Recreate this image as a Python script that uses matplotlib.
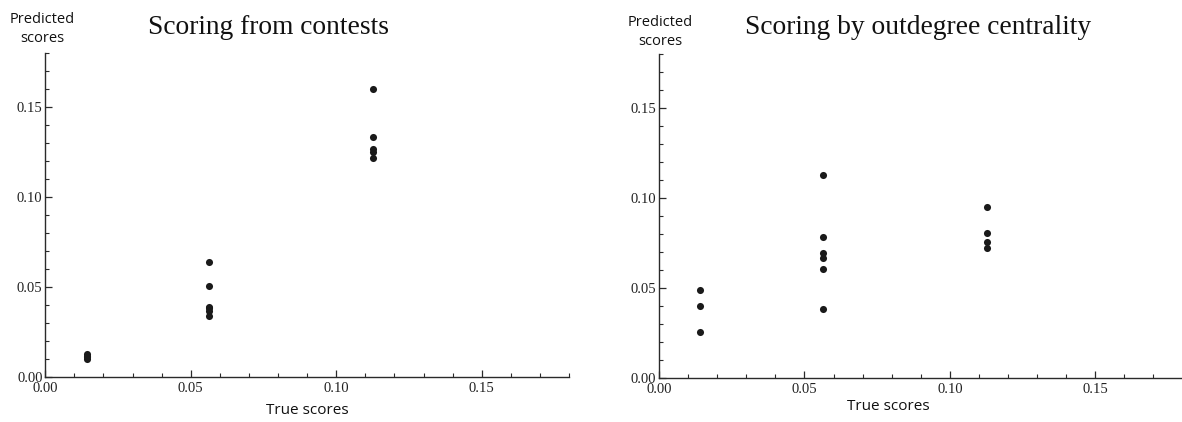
import matplotlib
matplotlib.use('Agg')
import matplotlib.pyplot as plt
import matplotlib.ticker as ticker

# values
contest_x = [0.0143] * 4 + [0.0564] * 6 + [0.1128] * 5
contest_y = [0.0101, 0.0110, 0.0117, 0.0124,
             0.0637, 0.0505, 0.0390, 0.0380, 0.0365, 0.0340,
             0.1600, 0.1333, 0.1265, 0.1250, 0.1215]

outdeg_x = [0.0141] * 3 + [0.0563] * 6 + [0.1127] * 4
outdeg_y = [0.0487, 0.0398, 0.0252,
            0.1126, 0.0780, 0.0691, 0.0663, 0.0602, 0.0383,
            0.0947, 0.0803, 0.0754, 0.0720]

titles = ['Scoring from contests', 'Scoring by outdegree centrality']
ticks = [0.00, 0.05, 0.10, 0.15]

W, H = 1182, 422
fig = plt.figure(figsize=(W / 100, H / 100), dpi=100)

def px(x, y):
    return x / W, 1 - y / H

# axes boxes in pixels: left, right, top, bottom
boxes = [(45.3, 569, 53.4, 376.7), (659, 1182.5, 53.7, 377.7)]
data = [(contest_x, contest_y), (outdeg_x, outdeg_y)]
title_pos = [(268, 27), (918, 28)]
ylab_pos = [(42, 29), (660, 32)]
xlab_pos = [(307, 410), (888, 407)]

axis_col = '#2a2a2a'
for i in range(2):
    l, r, t, b = boxes[i]
    ax = fig.add_axes([l / W, 1 - b / H, (r - l) / W, (b - t) / H])
    xs, ys = data[i]
    ax.scatter(xs, ys, s=26, color='#1a1a1a', linewidths=0, zorder=3, clip_on=False)
    ax.set_xlim(0, 0.18)
    ax.set_ylim(0, 0.18)
    for s in ['top', 'right']:
        ax.spines[s].set_visible(False)
    for s in ['left', 'bottom']:
        ax.spines[s].set_color(axis_col)
        ax.spines[s].set_linewidth(1.0)
    ax.xaxis.set_major_locator(ticker.FixedLocator(ticks))
    ax.yaxis.set_major_locator(ticker.FixedLocator(ticks))
    ax.xaxis.set_minor_locator(ticker.MultipleLocator(0.01))
    ax.yaxis.set_minor_locator(ticker.MultipleLocator(0.01))
    ax.xaxis.set_major_formatter(ticker.FormatStrFormatter('%.2f'))
    ax.yaxis.set_major_formatter(ticker.FormatStrFormatter('%.2f'))
    ax.tick_params(which='major', direction='in', length=5, width=0.9, color=axis_col,
                   labelsize=10.5, pad=2)
    ax.tick_params(axis='x', which='major', pad=3.5)
    ax.tick_params(which='minor', direction='in', length=3, width=0.8, color=axis_col)
    for lab in ax.get_xticklabels() + ax.get_yticklabels():
        lab.set_fontfamily('Liberation Serif')
        lab.set_color('#222222')

    tx, ty = px(*title_pos[i])
    fig.text(tx, ty, titles[i], ha='center', va='center', fontsize=19.8,
             family='Liberation Serif', color='#111111')
    yx, yy = px(*ylab_pos[i])
    fig.text(yx, yy, 'Predicted\nscores', ha='center', va='center', fontsize=10.5,
             family='Open Sans', color='#111111', linespacing=1.3)
    lx, ly = px(*xlab_pos[i])
    fig.text(lx, ly, 'True scores', ha='center', va='center', fontsize=11,
             family='Open Sans', color='#111111')

fig.savefig('out.png', dpi=100)
